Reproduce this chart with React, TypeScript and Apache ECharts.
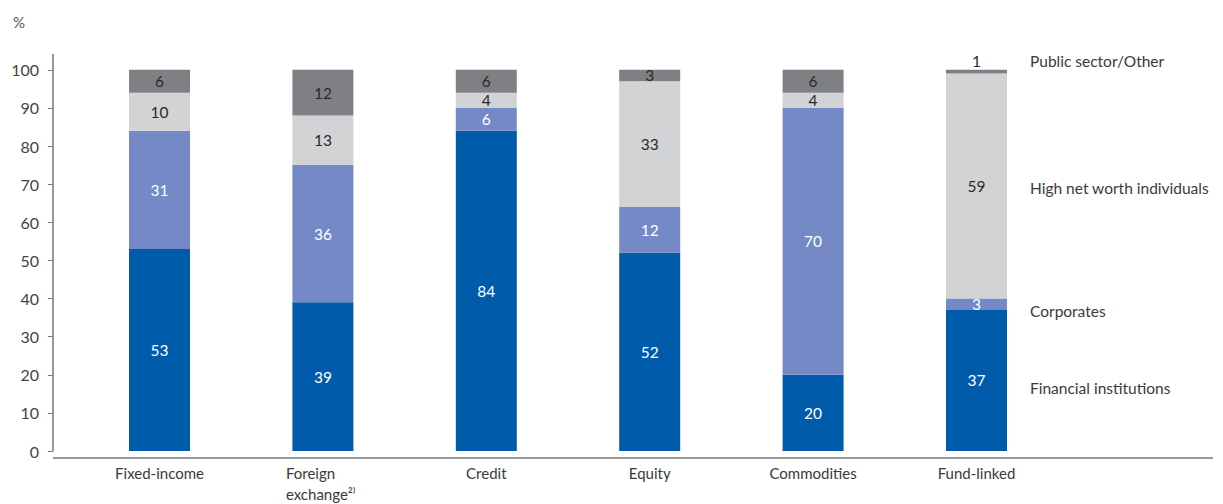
import React, { useEffect, useRef } from "react";
import * as echarts from "echarts";

const categories = ["Fixed-income", "Foreign\nexchange²⁾", "Credit", "Equity", "Commodities", "Fund-linked"];
const financial = [53, 39, 84, 52, 20, 37];
const corporates = [31, 36, 6, 12, 70, 3];
const hnwi = [10, 13, 4, 33, 4, 59];
const publicOther = [6, 12, 6, 3, 6, 1];
const seriesNames = ["Financial institutions", "Corporates", "High net worth individuals", "Public sector/Other"];
const yTicks = [0, 10, 20, 30, 40, 50, 60, 70, 80, 90, 100];

const FONT = "Lato";
const W = 400;

export default function App() {
  const ref = useRef<HTMLDivElement>(null);
  useEffect(() => {
    document.body.style.margin = "0";
    const chart = echarts.init(ref.current!, null, { renderer: "svg" });
    const labelBase = { show: true, position: "inside", fontFamily: FONT, fontSize: 15.5, fontWeight: W };
    const colors = ["#005BAB", "#7589C7", "#D2D3D5", "#7F8083"];
    const labelColors = ["#ffffff", "#ffffff", "#2a2a2a", "#2a2a2a"];
    const all = [financial, corporates, hnwi, publicOther];
    const series = all.map((vals, s) => ({
      type: "bar",
      name: seriesNames[s],
      stack: "total",
      barWidth: 61,
      itemStyle: { color: colors[s] },
      label: { ...labelBase, color: labelColors[s] },
      data: vals.map((v, i) => {
        const item: any = { value: v };
        if (s === 3 && i === categories.length - 1) {
          item.label = { position: "top", distance: 1 };
        }
        return item;
      }),
    }));
    const gridLeft = 159.5 - 163.4 / 2;
    const gridRight = 1223 - (gridLeft + 163.4 * categories.length);
    const labelY = [388, 311, 188, 61];
    chart.setOption({
      animation: false,
      title: { text: "%", left: 8, top: 9, textStyle: { fontFamily: FONT, fontSize: 15, fontWeight: W, color: "#555" } },
      grid: { left: gridLeft, right: gridRight, top: 54.5, bottom: 46 },
      xAxis: {
        type: "category",
        data: categories,
        axisLine: { show: false },
        axisTick: { show: false },
        splitLine: { show: false },
        axisLabel: {
          margin: 11,
          color: "#3a3a3a",
          fontFamily: FONT,
          fontSize: 15,
          fontWeight: W,
          lineHeight: 21,
          formatter: (c: string) => {
            if (c.indexOf("\n") >= 0) {
              return c.split("\n").map((l) => "{a|" + l + "}").join("\n");
            }
            return c;
          },
          rich: { a: { width: 74, align: "left", fontFamily: FONT, fontSize: 15, fontWeight: W, color: "#3a3a3a", lineHeight: 21 } },
        },
      },
      yAxis: {
        type: "value",
        min: 0,
        max: 104,
        offset: gridLeft - 53,
        axisLine: { show: true, lineStyle: { color: "#777", width: 1.5 } },
        axisTick: { show: true, length: 5, customValues: yTicks, lineStyle: { color: "#777" } },
        splitLine: { show: false },
        axisLabel: { customValues: yTicks, margin: 14, color: "#444", fontFamily: FONT, fontSize: 16, fontWeight: W },
      },
      series,
      graphic: [
        {
          type: "line",
          shape: { x1: 53, y1: 458, x2: 1213, y2: 458 },
          style: { stroke: "#777", lineWidth: 1.5 },
          z: 10,
        },
        ...seriesNames.map((n, i) => ({
          type: "text",
          x: 1030,
          y: labelY[i],
          style: { text: n, fill: "#3a3a3a", font: `${W} 15.5px ${FONT}`, verticalAlign: "middle" },
        })),
      ],
    });
    return () => chart.dispose();
  }, []);
  return <div ref={ref} style={{ width: 1223, height: 504 }} />;
}
